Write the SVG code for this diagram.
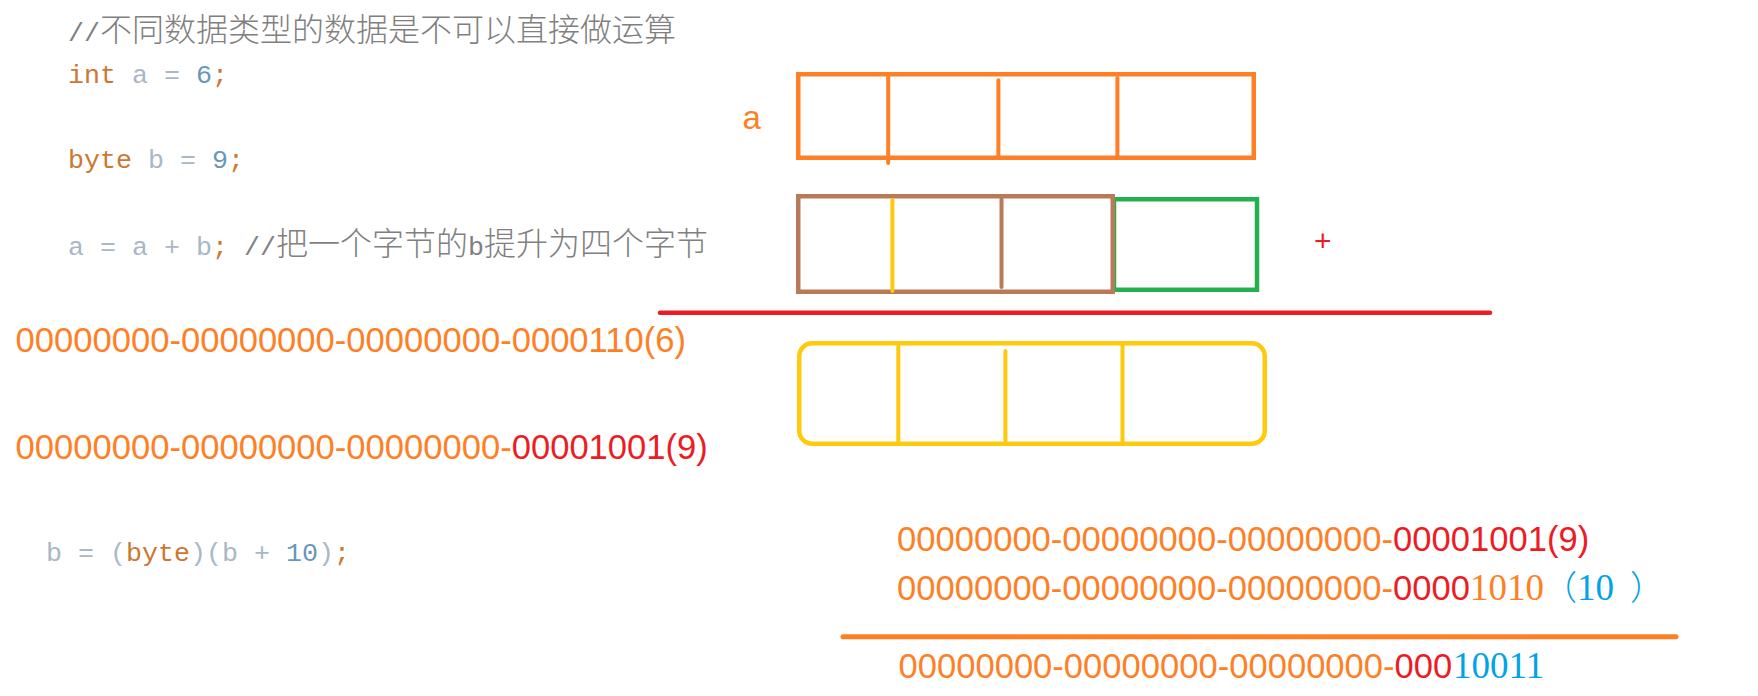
<svg xmlns="http://www.w3.org/2000/svg" width="1758" height="696" viewBox="0 0 1758 696">
<style>
.mono{font-family:"Liberation Mono","DejaVu Sans Mono",monospace;font-size:26.67px;white-space:pre}
.cjk{font-family:"Noto Sans CJK SC","Noto Sans",sans-serif;font-size:32px;font-weight:300}
.bin{font-family:"Liberation Sans",Arial,sans-serif;font-size:34.6px;white-space:pre}
.ser{font-family:"Liberation Serif","Times New Roman",serif;font-size:37px}
.cjkp{font-family:"Noto Sans CJK SC","Noto Sans",sans-serif;font-size:34px;font-weight:300}
.kw{fill:#CC7832}.id{fill:#A9B7C6}.num{fill:#6897BB}.cm{fill:#808080}
.or{fill:#FF7F27}.rd{fill:#ED1C24}.bl{fill:#00A2E8}
.box{fill:none;stroke-width:4.5}
.div{stroke-width:4;stroke-linecap:round}
</style>
<rect width="1758" height="696" fill="#FFFFFF"/>

<g id="code">
  <text class="mono cm" x="68" y="41">//<tspan class="cjk">不同数据类型的数据是不可以直接做运算</tspan></text>

  <text class="mono" x="68" y="83"><tspan class="kw">int</tspan><tspan class="id"> a = </tspan><tspan class="num">6</tspan><tspan class="kw">;</tspan></text>

  <text class="mono" x="68" y="168"><tspan class="kw">byte</tspan><tspan class="id"> b = </tspan><tspan class="num">9</tspan><tspan class="kw">;</tspan></text>

  <text class="mono" x="68" y="255"><tspan class="id">a = a + b</tspan><tspan class="kw">;</tspan><tspan class="cm"> //</tspan><tspan class="cjk cm">把一个字节的</tspan><tspan class="cm">b</tspan><tspan class="cjk cm">提升为四个字节</tspan></text>

  <text class="mono" x="46" y="561"><tspan class="id">b = (</tspan><tspan class="kw">byte</tspan><tspan class="id">)(b + </tspan><tspan class="num">10</tspan><tspan class="id">)</tspan><tspan class="kw">;</tspan></text>
</g>

<g id="label-a">
  <text class="bin or" x="742.5" y="129" style="font-size:33px">a</text>
</g>

<g id="int-a-box">
  <rect class="box" x="798.25" y="74.25" width="455.5" height="83.5" stroke="#FF7F27"/>
  <line class="div" x1="888.2" y1="75" x2="888.2" y2="163" stroke="#FF7F27"/>
  <line class="div" x1="998.4" y1="80.3" x2="998.4" y2="156" stroke="#FF7F27"/>
  <line class="div" x1="1117.4" y1="78" x2="1117.4" y2="157" stroke="#FF7F27"/>
</g>

<g id="byte-b-box">
  <rect class="box" x="1114" y="199.25" width="143" height="90.5" stroke="#22B14C"/>
  <rect class="box" x="798.25" y="196.25" width="314.5" height="95.5" stroke="#B97A57"/>
  <line class="div" x1="892.4" y1="200" x2="892.4" y2="291" stroke="#FFC90E"/>
  <line class="div" x1="1001.5" y1="199" x2="1001.5" y2="287" stroke="#B97A57"/>
</g>

<g id="plus">
  <text x="1322.7" y="251" text-anchor="middle" class="rd" style="font-family:'Liberation Sans',Arial,sans-serif;font-size:30px">+</text>
</g>

<g id="result-box">
  <rect class="box" x="799.25" y="343.25" width="465.5" height="100.5" rx="13" ry="13" stroke="#FFC90E"/>
  <line class="div" x1="898.3" y1="346.7" x2="898.3" y2="440.7" stroke="#FFC90E"/>
  <line class="div" x1="1005.4" y1="351" x2="1005.4" y2="440.7" stroke="#FFC90E"/>
  <line class="div" x1="1122.5" y1="345.7" x2="1122.5" y2="443" stroke="#FFC90E"/>
</g>

<g id="connectors">
  <line x1="660" y1="312.7" x2="1490" y2="312.7" stroke="#ED1C24" stroke-width="4.5" stroke-linecap="round"/>
  <line x1="843" y1="636.7" x2="1676" y2="636.7" stroke="#FF7F27" stroke-width="5" stroke-linecap="round"/>
</g>

<g id="binary-left">
  <text class="bin or" x="15.6" y="352">00000000-00000000-00000000-0000110(6)</text>
  <text class="bin" x="15.6" y="459"><tspan class="or">00000000-00000000-00000000-</tspan><tspan class="rd">00001001(9)</tspan></text>
</g>

<g id="binary-right">
  <text class="bin" x="897" y="551"><tspan class="or">00000000-00000000-00000000-</tspan><tspan class="rd">00001001(9)</tspan></text>
  <text class="bin" x="897" y="600"><tspan class="or">00000000-00000000-00000000-</tspan><tspan class="rd">0000</tspan><tspan class="ser or" x="1470">1010</tspan><tspan class="cjkp bl" x="1543">（</tspan><tspan class="ser bl" x="1577">10</tspan><tspan class="cjkp bl" x="1630">）</tspan></text>
  <text class="bin" x="898.5" y="678"><tspan class="or">00000000-00000000-00000000-</tspan><tspan class="rd">000</tspan><tspan class="ser bl" x="1453">10011</tspan></text>
</g>
</svg>
